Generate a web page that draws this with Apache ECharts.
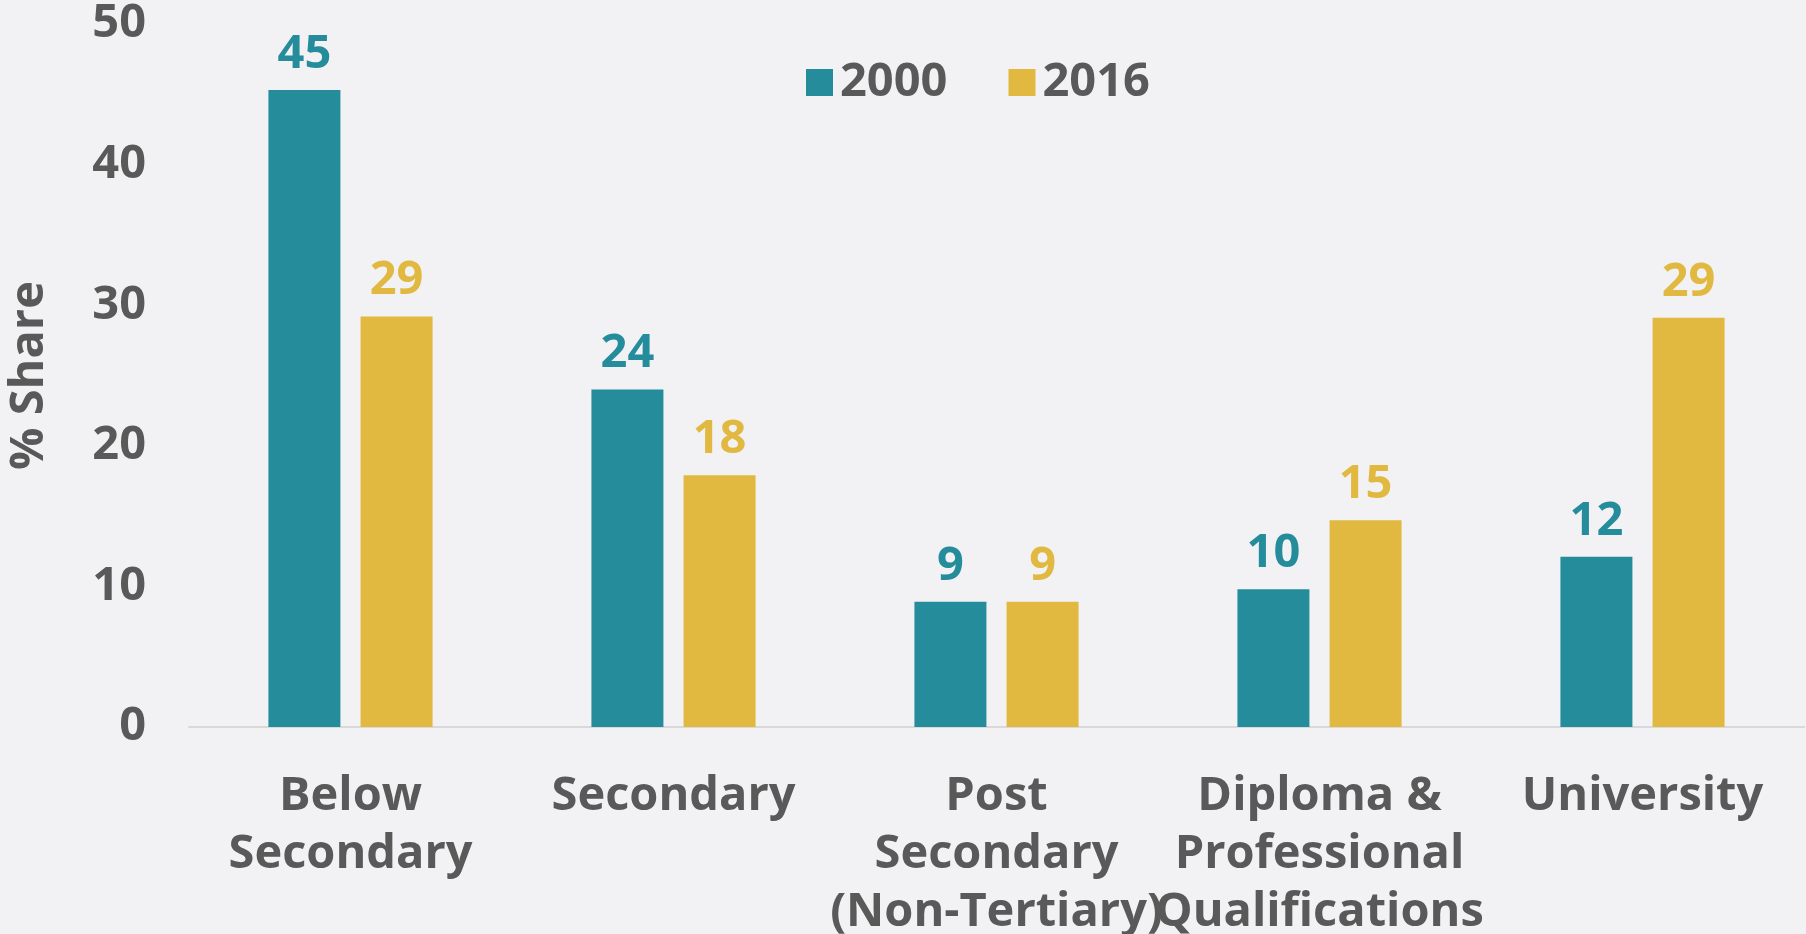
<!DOCTYPE html>
<html>
<head>
<meta charset="utf-8">
<script src="https://cdn.jsdelivr.net/npm/echarts@6/dist/echarts.min.js"></script>
<style>
html,body{margin:0;padding:0;background:#f2f2f4;}
#chart{width:1806px;height:934px;}
</style>
</head>
<body>
<div id="chart"></div>
<script>
const categories = ['Below\nSecondary', 'Secondary', 'Post\nSecondary\n(Non-Tertiary)', 'Diploma &\nProfessional\nQualifications', 'University'];
const seriesNames = ['2000', '2016'];
const values2000 = [45.3, 24.0, 8.9, 9.8, 12.1];
const values2016 = [29.2, 17.9, 8.9, 14.7, 29.1];
const yTicks = { min: 0, max: 50, interval: 10 };

const FONT = '"Open Sans", sans-serif';
const GREY = '#595959';
const TEAL = '#258c9b';
const GOLD = '#e1b941';

const chart = echarts.init(document.getElementById('chart'));
function bar(name, data, color) {
  return {
    name: name, type: 'bar', data: data,
    barWidth: 72, barGap: '28%',
    itemStyle: { color: color },
    label: {
      show: true, position: 'top', distance: 12,
      color: color, fontFamily: FONT, fontWeight: 'bold', fontSize: 47,
      formatter: p => Math.round(p.value)
    }
  };
}
chart.setOption({
  backgroundColor: '#f2f2f4',
  animation: false,
  grid: { left: 189, right: 2, top: 24, bottom: 207, containLabel: false, outerBoundsMode: 'none' },
  legend: {
    data: seriesNames, left: 801, top: 54,
    itemWidth: 27, itemHeight: 27, itemGap: 61,
    icon: 'rect',
    textStyle: { color: GREY, fontFamily: FONT, fontWeight: 'bold', fontSize: 47, padding: [0, 0, 0, 2] }
  },
  xAxis: {
    type: 'category', data: categories,
    axisLine: { lineStyle: { color: '#d9d9d9', width: 2 } },
    axisTick: { show: false },
    axisLabel: { interval: 0, margin: 41, color: GREY, fontFamily: FONT, fontWeight: 'bold', fontSize: 47, lineHeight: 58 }
  },
  yAxis: {
    type: 'value', min: yTicks.min, max: yTicks.max, interval: yTicks.interval,
    name: '% Share', nameLocation: 'middle', nameGap: 136,
    nameTextStyle: { color: GREY, fontFamily: FONT, fontWeight: 'bold', fontSize: 47 },
    axisLine: { show: false }, axisTick: { show: false },
    splitLine: { show: false },
    axisLabel: { margin: 43, color: GREY, fontFamily: FONT, fontWeight: 'bold', fontSize: 47 }
  },
  series: [bar(seriesNames[0], values2000, TEAL), bar(seriesNames[1], values2016, GOLD)]
});
</script>
</body>
</html>
